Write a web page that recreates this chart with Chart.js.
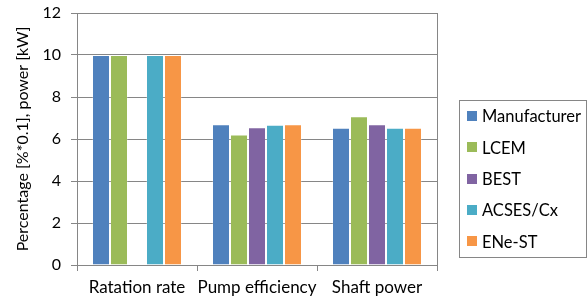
<!DOCTYPE html>
<html><head><meta charset="utf-8">
<script src="https://cdn.jsdelivr.net/npm/chart.js@4.4.1/dist/chart.umd.min.js"></script>
<style>html,body{margin:0;padding:0;background:#fff}#wrap{width:588px;height:297px}</style>
</head><body><div id="wrap"><canvas id="c" width="588" height="297"></canvas></div>
<script>
const categories = ["Ratation rate", "Pump efficiency", "Shaft power"];
const seriesNames = ["Manufacturer", "LCEM", "BEST", "ACSES/Cx", "ENe-ST"];
const manufacturer = [10, 6.70, 6.54];
const lcem = [10, 6.22, 7.08];
const best = [null, 6.56, 6.70];
const acses = [10, 6.68, 6.54];
const enest = [10, 6.70, 6.54];
const yTicks = [0, 2, 4, 6, 8, 10, 12];
const colors = ["#4F81BD", "#9BBB59", "#8064A2", "#4BACC6", "#F79646"];

const FONT = "Lato";
const values = [manufacturer, lcem, best, acses, enest];

const legendPlugin = {
  id: 'boxLegend',
  afterDraw(chart) {
    const ctx = chart.ctx;
    ctx.save();
    ctx.strokeStyle = '#868686';
    ctx.lineWidth = 1;
    const a = chart.chartArea;
    ctx.strokeRect(Math.round(a.left) + 0.5, Math.round(a.top) + 0.5, Math.round(a.right - a.left), Math.round(a.bottom - a.top));
    ctx.strokeRect(459.5, 100.5, 127, 157);
    ctx.font = '16.5px ' + FONT;
    ctx.textBaseline = 'middle';
    chart.data.datasets.forEach((ds, i) => {
      const y = 116 + i * 31.3;
      ctx.fillStyle = ds.backgroundColor;
      ctx.fillRect(467, Math.round(y - 5), 10, 10);
      ctx.fillStyle = '#000';
      ctx.fillText(ds.label, 482, y + 1);
    });
    ctx.restore();
  }
};

new Chart(document.getElementById('c'), {
  type: 'bar',
  data: {
    labels: categories,
    datasets: seriesNames.map((n, i) => ({
      label: n,
      data: values[i],
      backgroundColor: colors[i],
      borderColor: 'rgba(255,255,255,0.2)',
      borderWidth: 1,
      categoryPercentage: 0.75,
      barPercentage: 1.0
    }))
  },
  options: {
    responsive: false,
    animation: false,
    devicePixelRatio: 1,
    layout: { padding: { top: 13, right: 151, left: 0, bottom: 0 } },
    plugins: { legend: { display: false }, tooltip: { enabled: false } },
    scales: {
      x: {
        grid: { display: true, drawOnChartArea: false, offset: true, color: '#868686', tickLength: 6 },
        border: { color: '#868686' },
        ticks: { color: '#000', font: { family: FONT, size: 17 }, padding: 6, maxRotation: 0, minRotation: 0, autoSkip: false },
        afterFit(s) { s.height = 32; s.paddingLeft = 0; s.paddingRight = 0; }
      },
      y: {
        min: 0, max: 12,
        afterBuildTicks(s) { s.ticks = yTicks.map(v => ({ value: v })); },
        grid: { color: '#868686', tickLength: 6 },
        border: { color: '#868686' },
        ticks: { color: '#000', font: { family: FONT, size: 16 }, padding: 10 },
        title: { display: true, text: 'Percentage [%*0.1], power [kW]', color: '#000', font: { family: FONT, size: 16 }, padding: { top: 13, bottom: 0 } },
        afterFit(s) { s.width = 77; s.paddingTop = 0; s.paddingBottom = 0; }
      }
    }
  },
  plugins: [legendPlugin]
});
</script></body></html>
